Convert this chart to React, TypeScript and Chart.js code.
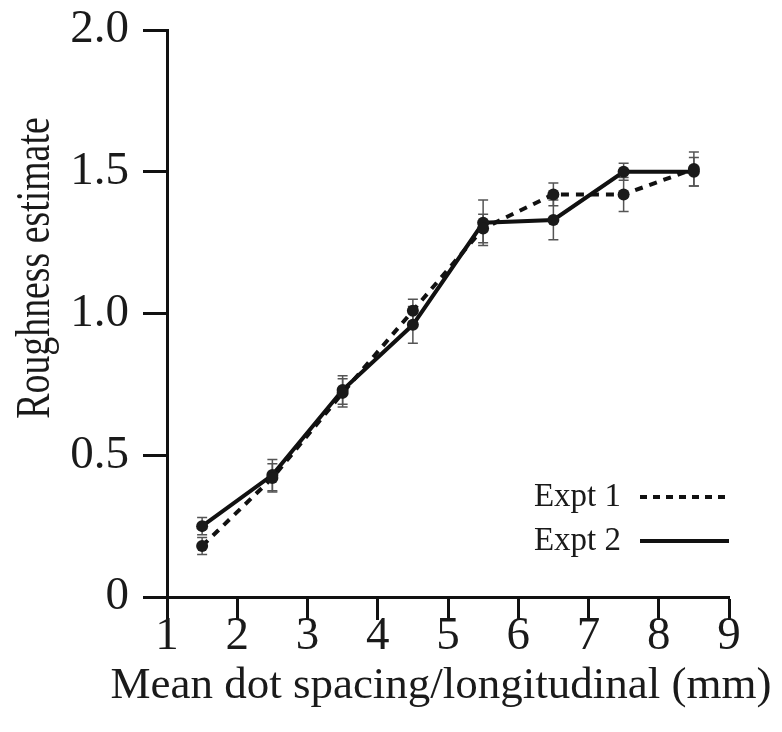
import React, { useEffect, useRef } from "react";
import { Chart, registerables } from "chart.js";

Chart.register(...registerables);

const xValues = [1.5, 2.5, 3.5, 4.5, 5.5, 6.5, 7.5, 8.5];
const expt1 = [0.18, 0.42, 0.72, 1.01, 1.3, 1.42, 1.42, 1.51];
const expt1Err = [0.03, 0.05, 0.05, 0.04, 0.05, 0.04, 0.06, 0.06];
const expt2 = [0.25, 0.43, 0.73, 0.96, 1.32, 1.33, 1.5, 1.5];
const expt2Err = [0.03, 0.055, 0.05, 0.065, 0.08, 0.07, 0.03, 0.05];
const seriesNames = ["Expt 1", "Expt 2"];
const xTitle = "Mean dot spacing/longitudinal (mm)";
const yTitle = "Roughness estimate";

const FONT = "'Liberation Serif', 'Times New Roman', serif";
const INK = "#1a1a1a";

const errorBars = {
  id: "errorBars",
  beforeDatasetsDraw(chart: any) {
    const { ctx } = chart;
    const yS = chart.scales.y;
    const errs = [expt1Err, expt2Err];
    ctx.save();
    ctx.strokeStyle = "#555";
    ctx.lineWidth = 1.5;
    chart.data.datasets.forEach((ds: any, di: number) => {
      const meta = chart.getDatasetMeta(di);
      meta.data.forEach((pt: any, i: number) => {
        const v = ds.data[i].y;
        const e = errs[di][i];
        const top = yS.getPixelForValue(v + e);
        const bot = yS.getPixelForValue(v - e);
        const x = pt.x;
        ctx.beginPath();
        ctx.moveTo(x, top);
        ctx.lineTo(x, bot);
        ctx.moveTo(x - 5, top);
        ctx.lineTo(x + 5, top);
        ctx.moveTo(x - 5, bot);
        ctx.lineTo(x + 5, bot);
        ctx.stroke();
      });
    });
    ctx.restore();
  },
};

const annotations = {
  id: "annotations",
  afterDraw(chart: any) {
    const { ctx } = chart;
    ctx.save();
    ctx.fillStyle = INK;
    // y title
    ctx.font = `45px ${FONT}`;
    ctx.translate(36, 268);
    ctx.rotate(-Math.PI / 2);
    ctx.scale(0.84, 1.08);
    ctx.textAlign = "center";
    ctx.textBaseline = "middle";
    ctx.fillText(yTitle, 0, 0);
    ctx.setTransform(1, 0, 0, 1, 0, 0);
    // x title
    ctx.font = `45px ${FONT}`;
    ctx.textAlign = "center";
    ctx.textBaseline = "alphabetic";
    ctx.fillText(xTitle, 441, 698);
    // legend
    ctx.font = `33px ${FONT}`;
    ctx.textAlign = "right";
    ctx.textBaseline = "middle";
    ctx.fillText(seriesNames[0], 621, 497);
    ctx.fillText(seriesNames[1], 621, 541);
    ctx.strokeStyle = "#111";
    ctx.lineWidth = 4;
    ctx.setLineDash([7, 6]);
    ctx.beginPath();
    ctx.moveTo(640, 497);
    ctx.lineTo(729, 497);
    ctx.stroke();
    ctx.setLineDash([]);
    ctx.beginPath();
    ctx.moveTo(640, 541);
    ctx.lineTo(729, 541);
    ctx.stroke();
    ctx.restore();
  },
};

export default function App() {
  const ref = useRef<HTMLCanvasElement | null>(null);
  useEffect(() => {
    document.body.style.margin = "0";
    const canvas = ref.current!;
    const chart = new Chart(canvas, {
      type: "line",
      data: {
        datasets: [
          {
            label: seriesNames[0],
            data: xValues.map((x, i) => ({ x, y: expt1[i] })),
            borderColor: "#111",
            backgroundColor: "#111",
            borderWidth: 4,
            borderDash: [8, 7],
            pointRadius: 6,
            pointBackgroundColor: "#1a1a1a",
            pointBorderWidth: 0,
            tension: 0,
          },
          {
            label: seriesNames[1],
            data: xValues.map((x, i) => ({ x, y: expt2[i] })),
            borderColor: "#111",
            backgroundColor: "#111",
            borderWidth: 4,
            pointRadius: 6,
            pointBackgroundColor: "#1a1a1a",
            pointBorderWidth: 0,
            tension: 0,
          },
        ],
      },
      options: {
        animation: false,
        responsive: false,
        layout: { padding: { top: 30, right: 53, left: 0, bottom: 0 } },
        plugins: { legend: { display: false }, tooltip: { enabled: false } },
        scales: {
          x: {
            type: "linear",
            min: 1,
            max: 9,
            afterFit: (s: any) => {
              s.height = 135;
              s.paddingLeft = 0;
              s.paddingRight = 0;
            },
            ticks: {
              stepSize: 1,
              color: INK,
              font: { family: FONT, size: 47 },
              padding: -12,
              maxRotation: 0,
            },
            grid: {
              drawOnChartArea: false,
              tickLength: 23,
              tickColor: "#111",
              tickWidth: 3,
            },
            border: { color: "#111", width: 3 },
          },
          y: {
            type: "linear",
            min: 0,
            max: 2,
            afterFit: (s: any) => {
              s.width = 167;
              s.paddingTop = 0;
              s.paddingBottom = 0;
            },
            ticks: {
              stepSize: 0.5,
              color: INK,
              font: { family: FONT, size: 47 },
              padding: 14,
              callback: (v: any) => (v === 0 ? "0" : Number(v).toFixed(1)),
            },
            grid: {
              drawOnChartArea: false,
              tickLength: 24,
              tickColor: "#111",
              tickWidth: 3,
            },
            border: { color: "#111", width: 3 },
          },
        },
      },
      plugins: [errorBars, annotations],
    } as any);
    return () => chart.destroy();
  }, []);
  return <canvas ref={ref} width={782} height={732} style={{ display: "block" }} />;
}
